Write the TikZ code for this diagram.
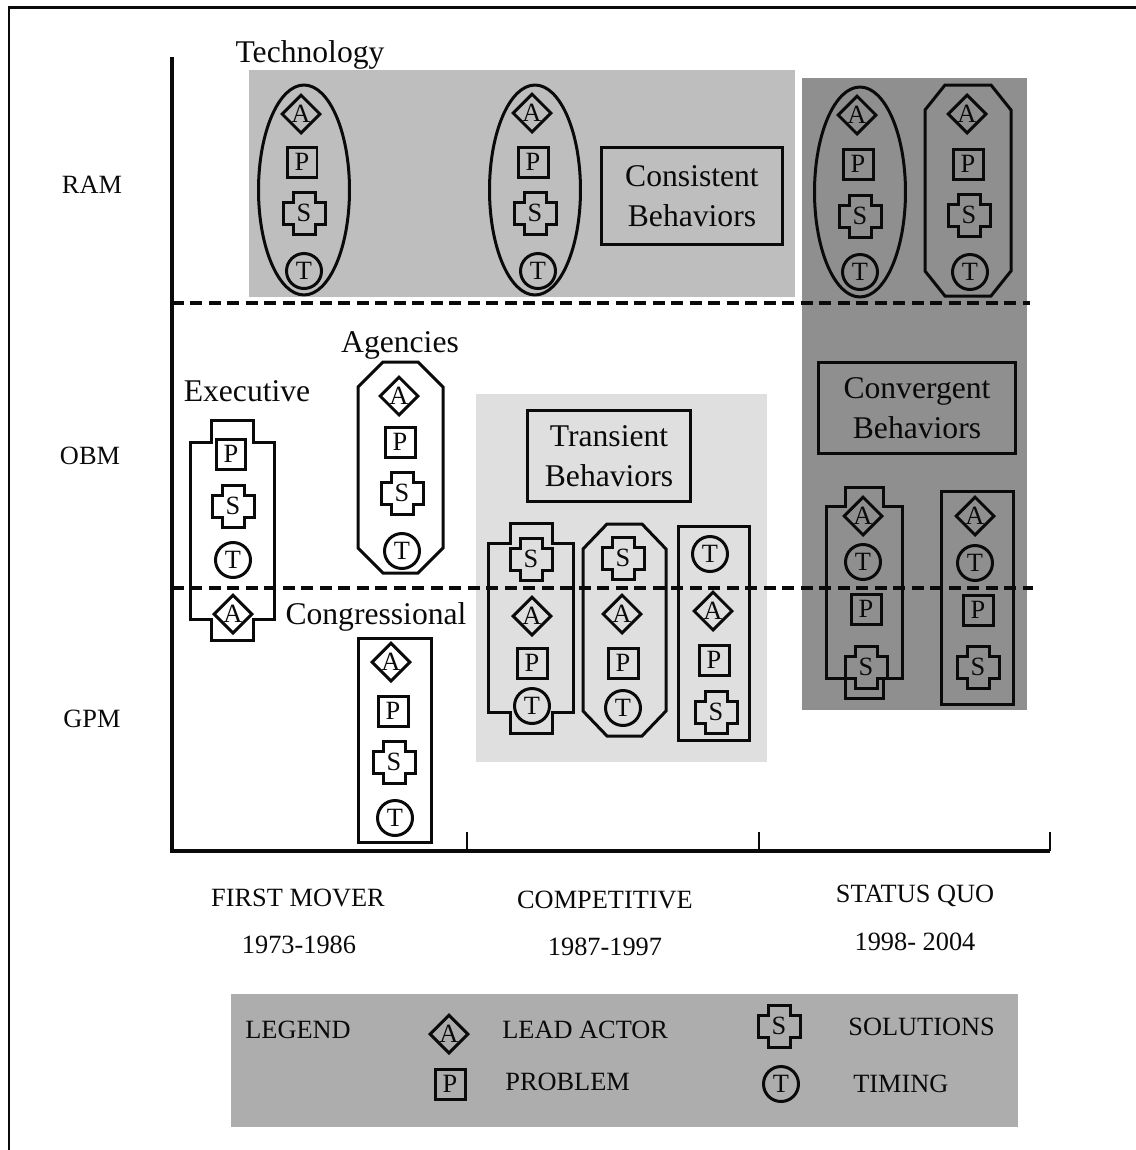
\documentclass[tikz,border=0pt]{standalone}
\usepackage{fontspec}
\setmainfont{Liberation Serif}
\usepackage{xcolor}
\usepackage{tikz}
\usetikzlibrary{shapes.geometric}
\definecolor{cInk}{HTML}{0A0A0A}
\definecolor{cBand}{HTML}{BEBEBE}
\definecolor{cDark}{HTML}{8F8F8F}
\definecolor{cPale}{HTML}{DFDFDF}
\definecolor{cLegend}{HTML}{ADADAD}
\tikzset{
  axisline/.style={draw=cInk,line width=0.07cm},
  divline/.style={draw=cInk,line width=0.07cm,dash pattern=on 0.24cm off 0.13cm},
  outl/.style={draw=cInk,line width=0.06cm},
  symline/.style={draw=cInk,line width=0.06cm},
  hdr/.style={font=\fontsize{18}{21.5}\selectfont,text=cInk,align=center,inner sep=0pt},
  lbl/.style={font=\fontsize{15}{18}\selectfont,text=cInk,inner sep=0pt},
  behbox/.style={outl,hdr},
  ovalbox/.style={outl,ellipse,inner sep=0pt,minimum width=1.82cm,minimum height=4.2cm},
  symA/.style={symline,diamond,inner sep=0pt,minimum size=0.78cm,font=\fontsize{15}{15}\selectfont,text=cInk},
  symP/.style={symline,rectangle,inner sep=0pt,minimum size=0.6cm,font=\fontsize{15}{15}\selectfont,text=cInk},
  symS/.style={inner sep=0pt,font=\fontsize{15}{15}\selectfont,text=cInk},
  symT/.style={symline,circle,inner sep=0pt,minimum size=0.7cm,font=\fontsize{15}{15}\selectfont,text=cInk},
}
\newcommand{\crossat}[2]{\draw[symline,shift={(#1,#2)}] (-11,-21) -- (11,-21) -- (11,-11) -- (21,-11) -- (21,11) -- (11,11) -- (11,21) -- (-11,21) -- (-11,11) -- (-21,11) -- (-21,-11) -- (-11,-11) -- cycle;}
% x1,y1,x2,y2 and the size of the cut corner
\newcommand{\chamfbox}[6]{\draw[outl] ({#1+#5},#2) -- ({#3-#5},#2) -- (#3,{#2+#6}) -- (#3,{#4-#6}) -- ({#3-#5},#4) -- ({#1+#5},#4) -- (#1,{#4-#6}) -- (#1,{#2+#6}) -- cycle;}
% outer x1,x2, neck x1,x2, y top, shoulder, shoulder, bottom
\newcommand{\plusbox}[8]{\draw[outl] (#3,#5) -- (#4,#5) -- (#4,#6) -- (#2,#6) -- (#2,#7) -- (#4,#7) -- (#4,#8) -- (#3,#8) -- (#3,#7) -- (#1,#7) -- (#1,#6) -- (#3,#6) -- cycle;}
\begin{document}
\begin{tikzpicture}[x=0.02cm,y=-0.02cm]
    \useasboundingbox (0,0) rectangle (1136,1150);
    % shaded regions
    \fill[cBand] (249,70) rectangle (795,297);
    \fill[cPale] (476,394) rectangle (767,762);
    \fill[cDark] (802,78) rectangle (1027,710);
    \fill[cLegend] (231,994) rectangle (1018,1127);
    \draw[axisline,line width=0.06cm] (1136,7) -- (9,7) -- (9,1150);
    \draw[axisline] (172,57) -- (172,851) -- (1050,851);
    \foreach \x in {467,759,1050}{
      \draw[axisline,line width=0.04cm] (\x,832) -- (\x,851);}
    \node[lbl] (ram) at (92,185) {RAM};
    \node[lbl] (obm) at (90,456) {OBM};
    \node[lbl] (gpm) at (92,719) {GPM};
    \node[hdr] (tech) at (310,55) {Technology};
    \node[hdr] (agen) at (400,345) {Agencies};
    \node[hdr] (exec) at (247,391) {Executive};
    \node[hdr] (cong) at (376,617) {Congressional};
    % group outlines
    \node[ovalbox] (ovalA) at (304,190) {};
    \node[ovalbox] (ovalB) at (535,190) {};
    \node[ovalbox] (ovalC) at (860,192) {};
    \chamfbox{925}{85}{1011}{296}{20}{25}
    \chamfbox{358}{362}{443}{573}{25}{25}
    \chamfbox{583}{524}{666}{736}{24}{25}
    \plusbox{190}{274}{211}{253}{420}{442}{619}{640}
    \plusbox{488}{573}{510}{552}{523}{543}{712}{733}
    \plusbox{826}{902}{845}{883}{487}{506}{678}{698}
    \draw[outl] (358,638) rectangle (431,842);
    \draw[outl] (678,526) rectangle (749,740);
    \draw[outl] (941,491) rectangle (1013,704);
    \node[behbox,minimum width=3.64cm,minimum height=1.96cm] (cons) at (692,196) {\raisebox{-1pt}{Consistent}\\\raisebox{-2pt}{Behaviors}};
    \node[behbox,minimum width=3.28cm,minimum height=1.84cm] (tran) at (609,456) {\raisebox{-2pt}{Transient}\\\raisebox{-3pt}{Behaviors}};
    \node[behbox,minimum width=3.96cm,minimum height=1.84cm] (conv) at (917,408) {\raisebox{-2pt}{Convergent}\\\raisebox{-3pt}{Behaviors}};
    % symbols
    \foreach \n/\x/\y in {aA/301/114, aB/532/113, aC/857/115, aD/967/114, aE/399/396, aF/233/614, aG/391/662, aH/532/616, aI/622/614, aJ/713/611, aK/863/516, aL/975/516, aM/449/1034}{
      \node[symA] (\n) at (\x,\y) {A};}
    \foreach \n/\x/\y in {pA/302/162, pB/533/162, pC/858/164, pD/968/164, pE/400/442, pF/231/454, pG/393/711, pH/532/663, pI/623/663, pJ/714/660, pK/866/609, pL/978/610, pM/450/1084}{
      \node[symP] (\n) at (\x,\y) {P};}
    \foreach \n/\x/\y in {sA/304/213, sB/535/213, sC/860/216, sD/969/215, sE/402/493, sF/233/506, sG/394/762, sH/531/559, sI/623/558, sJ/716/712, sK/866/667, sL/978/667, sM/779/1026}{
      \node[symS] (\n) at (\x,\y) {S};
      \crossat{\x}{\y}}
    \foreach \n/\x/\y in {tA/304/271, tB/538/271, tC/860/272, tD/970/272, tE/402/551, tF/233/560, tG/395/818, tH/532/706, tI/623/708, tJ/710/554, tK/863/562, tL/975/563, tM/781/1084}{
      \node[symT] (\n) at (\x,\y) {T};}
    \draw[divline] (172,303) -- (1030,303);
    \draw[divline] (172,588) -- (1033,588);
    % periods
    \foreach \n/\x/\y/\t in {perA/298/898/{FIRST MOVER}, yrA/299/945/{1973-1986}, perB/605/900/{COMPETITIVE}, yrB/605/947/{1987-1997}, perC/915/896/{STATUS QUO}, yrC/915/942/{1998- 2004}}{
      \node[lbl] (\n) at (\x,\y) {\t};}
    % legend
    \foreach \n/\x/\y/\t in {legA/245/1030/{LEGEND}, legB/502/1030/{LEAD ACTOR}, legC/505/1082/{PROBLEM}, legD/848/1027/{SOLUTIONS}, legE/853/1084/{TIMING}}{
      \node[lbl,anchor=west] (\n) at (\x,\y) {\t};}
  \end{tikzpicture}
\end{document}
